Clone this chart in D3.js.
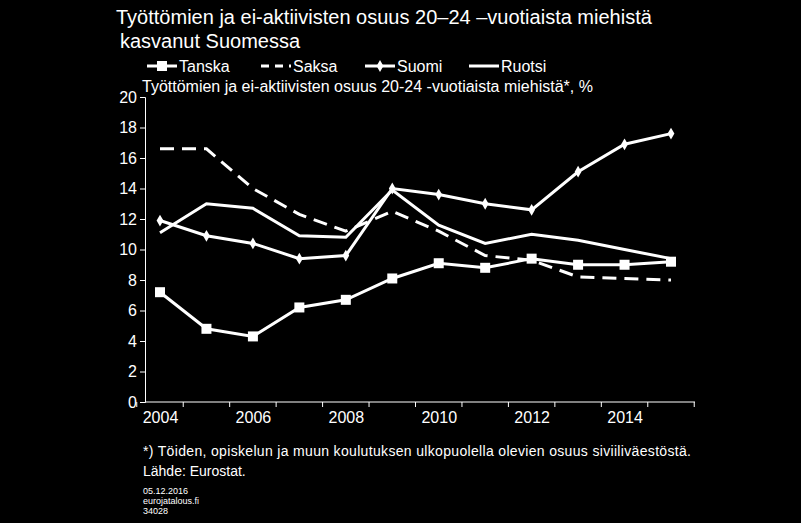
<!DOCTYPE html><html><head><meta charset="utf-8">
<script src="https://cdn.jsdelivr.net/npm/d3@7"></script>
<style>body{margin:0;background:#000}svg{display:block}text{font-family:"Liberation Sans",Arial,sans-serif;fill:#fff}</style>
</head><body><svg width="801" height="523"></svg>
<script>
const years=[2004,2005,2006,2007,2008,2009,2010,2011,2012,2013,2014,2015];
const tanska=[7.2,4.8,4.3,6.2,6.7,8.1,9.1,8.8,9.4,9.0,9.0,9.2];
const saksa=[16.6,16.6,14.0,12.3,11.2,12.5,11.2,9.6,9.3,8.2,8.1,8.0];
const suomi=[11.9,10.9,10.4,9.4,9.6,14.0,13.6,13.0,12.6,15.1,16.9,17.6];
const ruotsi=[11.1,13.0,12.7,10.9,10.8,13.9,11.6,10.4,11.0,10.6,10.0,9.4];
const yTicks=[0,2,4,6,8,10,12,14,16,18,20];
const xTicks=[2004,2006,2008,2010,2012,2014];
const svg=d3.select("svg");
const x=d3.scaleLinear().domain([2004,2015]).range([160,671]);
const y=d3.scaleLinear().domain([0,20]).range([402,97]);
svg.append("g").attr("transform","translate(145,0)").call(d3.axisLeft(y).tickValues(yTicks).tickSize(5))
 .call(g=>{g.selectAll("path,line").attr("stroke","#fff");g.selectAll("text").attr("font-size",16).attr("fill","#fff");});
const xa=d3.scaleLinear().domain([2003.67,2015.5]).range([145,695]);
svg.append("g").attr("transform","translate(0,402)").call(d3.axisBottom(x).tickValues(xTicks).tickFormat(d3.format("d")).tickSize(0).tickPadding(10))
 .call(g=>{g.select("path").remove();g.selectAll("text").attr("font-size",16).attr("fill","#fff");});
svg.append("line").attr("x1",145).attr("x2",695).attr("y1",402).attr("y2",402).attr("stroke","#fff");
svg.selectAll(".xt").data(d3.range(2003.5,2016,1)).join("line").attr("x1",d=>x(d)).attr("x2",d=>x(d)).attr("y1",402).attr("y2",407).attr("stroke","#fff");
const line=d3.line().x((d,i)=>x(years[i])).y(d=>y(d));
function draw(data,dash){svg.append("path").datum(data).attr("d",line).attr("fill","none").attr("stroke","#fff").attr("stroke-width",3).attr("stroke-dasharray",dash||null);}
draw(ruotsi);draw(saksa,"14,8");draw(tanska);draw(suomi);
svg.selectAll(".sq").data(tanska).join("rect").attr("x",(d,i)=>x(years[i])-5).attr("y",d=>y(d)-5).attr("width",10).attr("height",10).attr("fill","#fff");
svg.selectAll(".dm").data(suomi).join("path").attr("d",d3.symbol(d3.symbolDiamond,40)).attr("transform",(d,i)=>`translate(${x(years[i])},${y(d)})`).attr("fill","#fff");
// title
svg.append("text").attr("x",116).attr("y",24).attr("font-size",20).text("Työttömien ja ei-aktiivisten osuus 20–24 –vuotiaista miehistä");
svg.append("text").attr("x",120).attr("y",48).attr("font-size",20).text("kasvanut Suomessa");
// legend
const leg=[["Tanska",null,"sq"],["Saksa","8,6",null],["Suomi",null,"dm"],["Ruotsi",null,null]];
const lx=[147,261,365,469];
leg.forEach((l,i)=>{const g=svg.append("g");
 g.append("line").attr("x1",lx[i]).attr("x2",lx[i]+30).attr("y1",66).attr("y2",66).attr("stroke","#fff").attr("stroke-width",3).attr("stroke-dasharray",l[1]);
 if(l[2]=="sq")g.append("rect").attr("x",lx[i]+10).attr("y",61).attr("width",10).attr("height",10).attr("fill","#fff");
 if(l[2]=="dm")g.append("path").attr("d",d3.symbol(d3.symbolDiamond,40)).attr("transform",`translate(${lx[i]+15},66)`).attr("fill","#fff");
 g.append("text").attr("x",lx[i]+32).attr("y",72).attr("font-size",16).text(l[0]);});
svg.append("text").attr("x",142).attr("y",92).attr("font-size",16).text("Työttömien ja ei-aktiivisten osuus 20-24 -vuotiaista miehistä*, %");
svg.append("text").attr("x",143).attr("y",456).attr("font-size",14).attr("textLength",548).text("*) Töiden, opiskelun ja muun koulutuksen ulkopuolella olevien osuus siviiliväestöstä.");
svg.append("text").attr("x",143).attr("y",476).attr("font-size",14).text("Lähde: Eurostat.");
["05.12.2016","eurojatalous.fi","34028"].forEach((t,i)=>svg.append("text").attr("x",143).attr("y",494+i*10).attr("font-size",9).text(t));
</script></body></html>
